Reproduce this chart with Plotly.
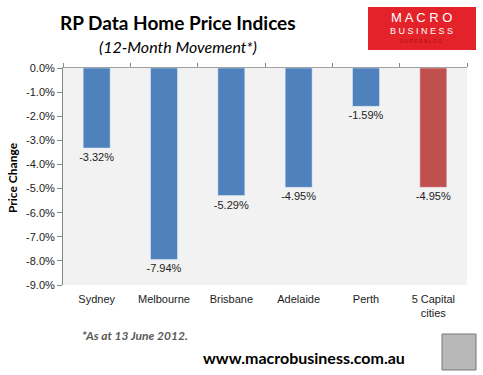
import plotly.graph_objects as go

categories = ["Sydney", "Melbourne", "Brisbane", "Adelaide", "Perth", "5 Capital<br>cities"]
values = [-3.32, -7.94, -5.29, -4.95, -1.59, -4.95]
bar_colors = ["#4F81BD", "#4F81BD", "#4F81BD", "#4F81BD", "#4F81BD", "#C0504D"]
y_ticks = [0, -1, -2, -3, -4, -5, -6, -7, -8, -9]
y_tick_labels = ["0.0%", "-1.0%", "-2.0%", "-3.0%", "-4.0%", "-5.0%", "-6.0%", "-7.0%", "-8.0%", "-9.0%"]

W, H = 483, 375
L, R, T, B = 63, 467, 68, 285

def px(x):
    return (x - L) / (R - L)

def py(y):
    return (B - y) / (B - T)

fig = go.Figure()
fig.add_trace(go.Bar(
    x=categories, y=values, marker_color=bar_colors, width=0.4,
    text=[f"{v:.2f}%" for v in values], textposition="outside",
    constraintext="none",
    textfont=dict(family="Liberation Sans", size=11, color="#222222"),
    cliponaxis=False, showlegend=False, hoverinfo="skip"))
# invisible trace on the top axis carrying the category boundary tick marks
fig.add_trace(go.Scatter(x=categories, y=[0]*len(categories), xaxis="x2",
                         mode="markers", marker=dict(opacity=0), showlegend=False,
                         hoverinfo="skip"))

fig.update_layout(
    width=W, height=H,
    margin=dict(l=L, r=W - R, t=T, b=H - B),
    paper_bgcolor="white", plot_bgcolor="#F2F2F2",
    font=dict(family="Liberation Sans", size=11, color="#222222"),
    xaxis=dict(type="category", showline=False, ticks="", showgrid=False,
               tickfont=dict(family="Liberation Sans", size=11, color="#222222"),
               range=[-0.5, 5.5], ticklabelstandoff=6),
    xaxis2=dict(type="category", overlaying="x", side="top",
                range=[-0.5, 5.5], categoryorder="array", categoryarray=categories,
                showline=True, linecolor="#A0A0A0", linewidth=1,
                ticks="outside", tickson="boundaries", ticklen=4, tickcolor="#868686",
                showticklabels=False, showgrid=False),
    yaxis=dict(range=[-9, 0], tickvals=y_ticks, ticktext=y_tick_labels,
               showline=True, linecolor="#868686", linewidth=1,
               ticks="outside", ticklen=5, tickcolor="#868686",
               showgrid=False, zeroline=False,
               tickfont=dict(family="Liberation Sans", size=11, color="#222222")),
    bargap=0.6,
)

annos = [
    dict(x=px(178), y=py(22), text="<b>RP Data Home Price Indices</b>",
         font=dict(family="Lato", size=19, color="black")),
    dict(x=px(178), y=py(46), text="<i>(12-Month Movement*)</i>",
         font=dict(family="Lato", size=16, color="black")),
    dict(x=px(12), y=py(178), text="<b>Price Change</b>", textangle=-90,
         font=dict(family="Lato", size=12, color="black")),
    dict(x=px(80), y=py(335), text="<b><i>*As at 13 June 2012.</i></b>", xanchor="left",
         font=dict(family="Lato", size=12, color="#5A5A5A")),
    dict(x=px(304), y=py(357), text="<b>www.macrobusiness.com.au</b>",
         font=dict(family="Lato", size=16, color="black")),
    dict(x=px(421), y=py(17), text="M A C R O",
         font=dict(family="Liberation Sans", size=13, color="white")),
    dict(x=px(421), y=py(31), text="B U S I N E S S",
         font=dict(family="Liberation Sans", size=9, color="white")),
    dict(x=px(421), y=py(41), text="S U P E R B L O G",
         font=dict(family="Liberation Sans", size=5, color="#B01010")),
]
for a in annos:
    a.setdefault("xanchor", "center")
    fig.add_annotation(xref="paper", yref="paper", showarrow=False, yanchor="middle", **a)

fig.add_shape(type="rect", xref="paper", yref="paper",
              x0=px(368), x1=px(476), y0=py(7), y1=py(50),
              fillcolor="#E4222A", line=dict(width=0), layer="below")
fig.add_shape(type="rect", xref="paper", yref="paper",
              x0=px(442), x1=px(476), y0=py(334), y1=py(370),
              fillcolor="#B8B8B8", line=dict(color="#777777", width=1))

fig.write_html("out.html", config={"displayModeBar": False},
               post_script="document.body.style.margin='0';document.body.style.overflow='hidden';")
